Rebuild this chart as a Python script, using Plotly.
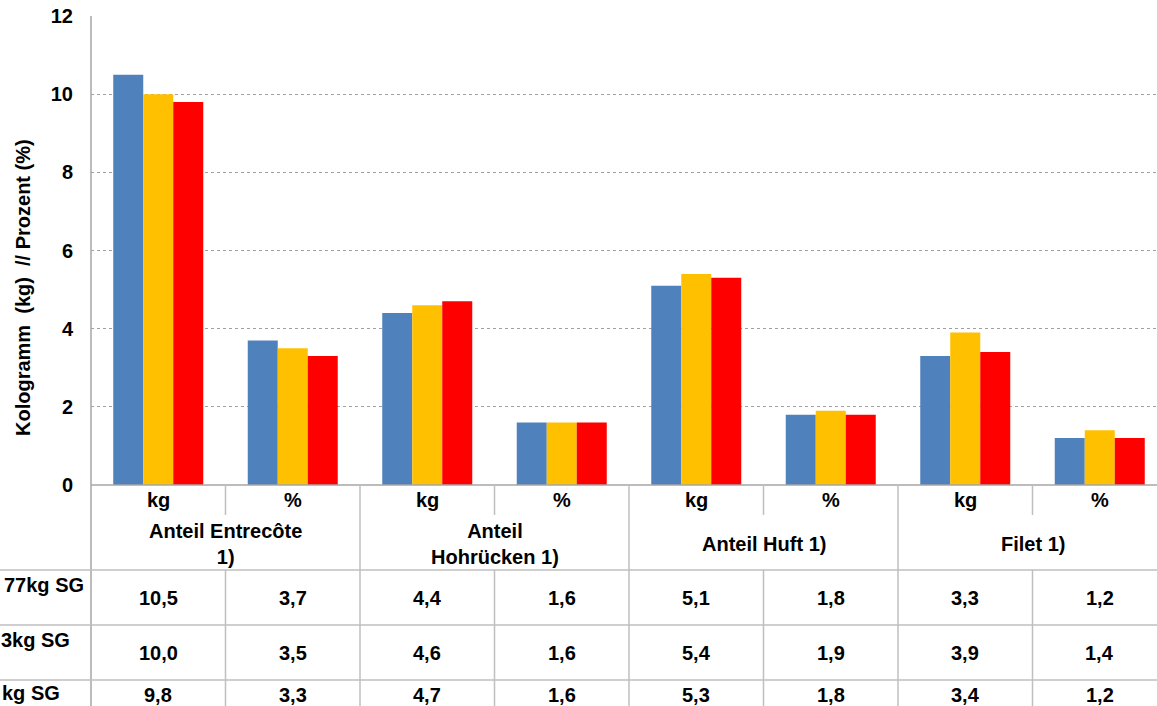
import plotly.graph_objects as go

# --- data -------------------------------------------------------------
units = ["kg", "%", "kg", "%", "kg", "%", "kg", "%"]
groups = ["Anteil Entrecôte<br>1)", "Anteil<br>Hohrücken 1)", "Anteil Huft 1)", "Filet 1)"]
row_labels = ["77kg SG", "3kg SG", "kg SG"]
series_a = [10.5, 3.7, 4.4, 1.6, 5.1, 1.8, 3.3, 1.2]
series_b = [10.0, 3.5, 4.6, 1.6, 5.4, 1.9, 3.9, 1.4]
series_c = [9.8, 3.3, 4.7, 1.6, 5.3, 1.8, 3.4, 1.2]
series = [series_a, series_b, series_c]
colors = ["#4F81BD", "#FFC000", "#FF0000"]
y_ticks = [0, 2, 4, 6, 8, 10, 12]

# --- geometry (pixels) ------------------------------------------------
W_FIG, H_FIG = 1157, 706
L, R, T, B = 91, 1157, 16, 485
PW, PH = R - L, B - T
CAT_W = 134.5
X_MIN = -0.5
X_MAX = X_MIN + PW / CAT_W

FONT = "Liberation Sans, Arial, sans-serif"
GRID = "#A0A0A0"


def py(p):
    return (B - p) / PH


def px(p):
    return (p - L) / PW


def cx(k):
    return (k - X_MIN) / (X_MAX - X_MIN)


fig = go.Figure()
cats = list(range(len(units)))
for vals, col in zip(series, colors):
    fig.add_trace(go.Bar(x=cats, y=vals, marker=dict(color=col, line=dict(width=0)),
                         showlegend=False))

fig.update_layout(
    width=W_FIG, height=H_FIG,
    margin=dict(l=L, r=W_FIG - R, t=T, b=H_FIG - B, pad=0),
    paper_bgcolor="white", plot_bgcolor="white",
    barmode="group", bargap=(CAT_W - 90) / CAT_W, bargroupgap=0,
    font=dict(family=FONT, color="black", size=20, weight="bold"),
    xaxis=dict(range=[X_MIN, X_MAX], showticklabels=False, showgrid=False,
               zeroline=False, showline=False, fixedrange=True),
    yaxis=dict(range=[0, 12], tickvals=y_ticks, ticktext=[str(v) for v in y_ticks],
               tickfont=dict(size=20, family=FONT, weight="bold"),
               showgrid=True, gridcolor=GRID, griddash="dot", gridwidth=1,
               zeroline=False, showline=False, ticks="", ticklabelstandoff=17),
)

shapes = []
line = dict(color="#BFBFBF", width=1.5)
bottom = py(H_FIG + 2)
# axis lines
shapes.append(dict(type="line", xref="paper", yref="paper", x0=0, x1=1.05, y0=0, y1=0,
                   line=dict(color="#A6A6A6", width=1.5)))
shapes.append(dict(type="line", xref="paper", yref="paper", x0=0, x1=0, y0=1, y1=bottom,
                   line=dict(color="#A6A6A6", width=1.5)))
# table column separators
for k in range(len(units)):
    xb = cx(k + 0.5)
    if k % 2 == 1:
        shapes.append(dict(type="line", xref="paper", yref="paper", x0=xb, x1=xb,
                           y0=0, y1=bottom, line=line))
    else:
        shapes.append(dict(type="line", xref="paper", yref="paper", x0=xb, x1=xb,
                           y0=0, y1=py(515), line=line))
        shapes.append(dict(type="line", xref="paper", yref="paper", x0=xb, x1=xb,
                           y0=py(570), y1=bottom, line=line))
# table row separators
for yy in [570, 625, 680]:
    shapes.append(dict(type="line", xref="paper", yref="paper", x0=px(0), x1=px(W_FIG + 2),
                       y0=py(yy), y1=py(yy), line=line))
fig.update_layout(shapes=shapes)

ann = []
# y-axis title
ann.append(dict(text="Kologramm  (kg)  // Prozent (%)", xref="paper", yref="paper",
                x=px(23), y=py(288), textangle=-90, showarrow=False,
                xanchor="center", yanchor="middle", font=dict(size=20)))
# unit row
for k, u in enumerate(units):
    ann.append(dict(text=u, xref="paper", yref="paper", x=cx(k), y=py(500),
                    showarrow=False, xanchor="center", yanchor="middle"))
# group row
for g, name in enumerate(groups):
    ann.append(dict(text=name, xref="paper", yref="paper", x=cx(2 * g + 0.5), y=py(544),
                    showarrow=False, xanchor="center", yanchor="middle"))
# value rows
row_value_y = [598, 653, 695]
row_label_y = [585, 640, 693]
row_label_right = [86, 72, 62]
for r, vals in enumerate(series):
    ann.append(dict(text=row_labels[r], xref="paper", yref="paper", x=px(row_label_right[r]),
                    y=py(row_label_y[r]), showarrow=False, xanchor="right", yanchor="middle"))
    for k, v in enumerate(vals):
        ann.append(dict(text=f"{v:.1f}".replace(".", ","), xref="paper", yref="paper",
                        x=cx(k), y=py(row_value_y[r]), showarrow=False,
                        xanchor="center", yanchor="middle"))
fig.update_layout(annotations=ann)

fig.write_html("out.html", config={"displayModeBar": False})
